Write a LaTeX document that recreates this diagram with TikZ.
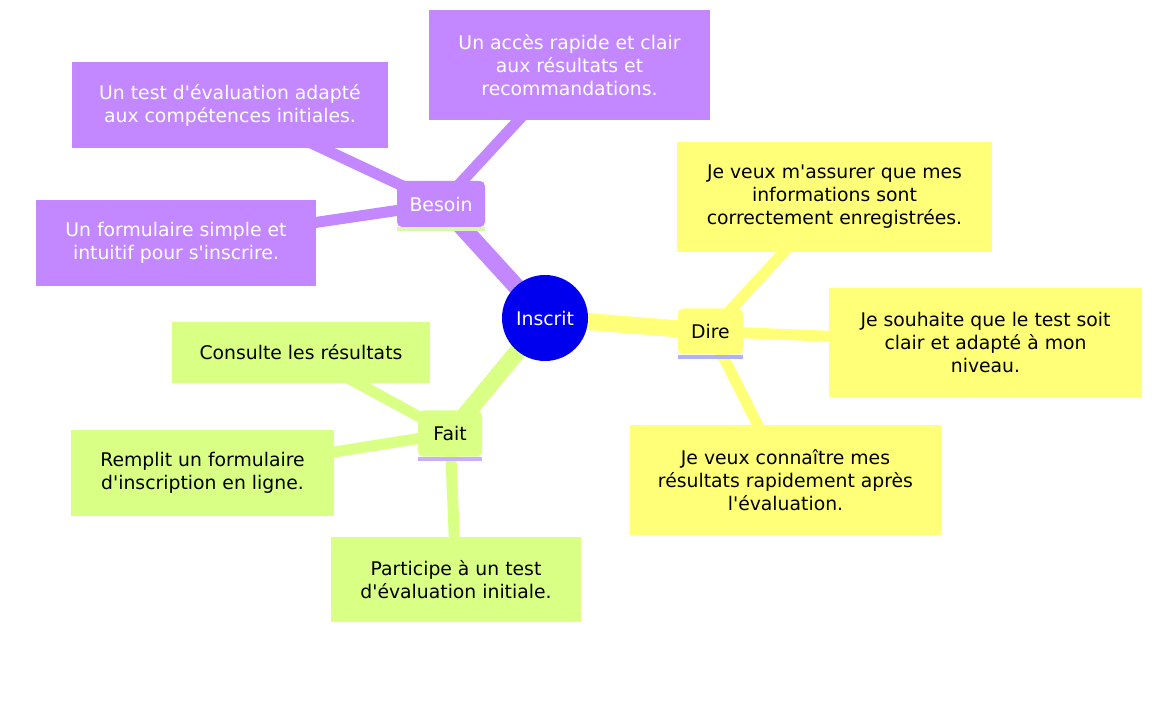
\documentclass[tikz,border=0pt]{standalone}
\usepackage{fontspec}
\setmainfont{DejaVu Sans}[Ligatures=TeXOff]
\usetikzlibrary{backgrounds}

\definecolor{besoincol}{HTML}{C388FF}
\definecolor{direcol}{HTML}{FFFF78}
\definecolor{faitcol}{HTML}{D9FF85}
\definecolor{rootcol}{HTML}{0000EE}
\definecolor{greenline}{HTML}{D8F8B0}
\definecolor{blueline}{HTML}{B0B0FF}
\definecolor{lilacline}{HTML}{C8B0FF}

\begin{document}
\begin{tikzpicture}[x=1pt, y=-1pt, font=\fontsize{18.8}{23}\selectfont]
	\tikzstyle{leaf}=[rectangle, inner sep=0pt, align=center]
	\tikzstyle{besoin leaf}=[leaf, fill=besoincol, text=white]
	\tikzstyle{dire leaf}=[leaf, fill=direcol, text=black]
	\tikzstyle{fait leaf}=[leaf, fill=faitcol, text=black]
	\tikzstyle{branch}=[rectangle, rounded corners=5pt, inner sep=0pt, minimum height=46pt]
	\tikzstyle{trunk}=[line width=17pt]
	\tikzstyle{twig}=[line width=11pt]

	\useasboundingbox (0,0) rectangle (1152,703);

	% Root
	\node[circle, fill=rootcol, text=white, minimum size=86pt, inner sep=0pt] (root) at (545,318) {Inscrit};

	% Branches
	\node[branch, fill=besoincol, text=white, minimum width=88pt] (besoin) at (441,204) {Besoin};
	\node[branch, fill=direcol, minimum width=65pt] (dire) at (710.5,331.5) {Dire};
	\node[branch, fill=faitcol, minimum width=64pt] (fait) at (450,433.5) {Fait};

	% Underlines
	\draw[greenline, line width=4pt] ([yshift=-2pt]besoin.south west) -- ([yshift=-2pt]besoin.south east);
	\draw[blueline, line width=4pt] ([yshift=-2pt]dire.south west) -- ([yshift=-2pt]dire.south east);
	\draw[lilacline, line width=4pt] ([yshift=-2pt]fait.south west) -- ([yshift=-2pt]fait.south east);

	% Besoin leaves
	\node[besoin leaf, minimum width=281pt, minimum height=110pt] (b1) at (569.5,65) {Un accès rapide et clair\\aux résultats et\\recommandations.};
	\node[besoin leaf, minimum width=316pt, minimum height=86pt] (b2) at (230,105) {Un test d'évaluation adapté\\aux compétences initiales.};
	\node[besoin leaf, minimum width=280pt, minimum height=86pt] (b3) at (176,243) {Un formulaire simple et\\intuitif pour s'inscrire.};

	% Dire leaves
	\node[dire leaf, minimum width=315pt, minimum height=110pt] (d1) at (834.5,197) {Je veux m'assurer que mes\\informations sont\\correctement enregistrées.};
	\node[dire leaf, minimum width=313pt, minimum height=109pt] (d2) at (985.5,342.5) {Je souhaite que le test soit\\clair et adapté à mon\\niveau.};
	\node[dire leaf, minimum width=311pt, minimum height=110pt] (d3) at (785.5,480) {Je veux connaître mes\\résultats rapidement après\\l'évaluation.};

	% Fait leaves
	\node[fait leaf, minimum width=258pt, minimum height=61pt] (f1) at (301,352.5) {Consulte les résultats};
	\node[fait leaf, minimum width=263pt, minimum height=86pt] (f2) at (202.5,473) {Remplit un formulaire\\d'inscription en ligne.};
	\node[fait leaf, minimum width=250pt, minimum height=85pt] (f3) at (456,579.5) {Participe à un test\\d'évaluation initiale.};

	% Edges
	\begin{scope}[on background layer]
		\draw[trunk, besoincol] (root.center) -- (besoin.center);
		\draw[trunk, direcol] (root.center) -- (dire.center);
		\draw[trunk, faitcol] (root.center) -- (fait.center);
		\foreach \dest in {b1,b2,b3}
		\draw[twig, besoincol] (besoin.center) -- (\dest.center);
		\foreach \dest in {d1,d2,d3}
		\draw[twig, direcol] (dire.center) -- (\dest.center);
		\foreach \dest in {f1,f2,f3}
		\draw[twig, faitcol] (fait.center) -- (\dest.center);
	\end{scope}
\end{tikzpicture}
\end{document}
